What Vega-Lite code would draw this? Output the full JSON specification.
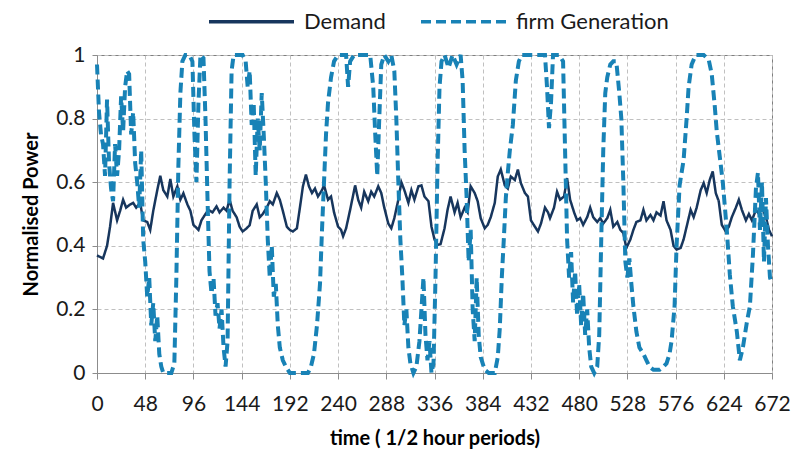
{
  "$schema": "https://vega.github.io/schema/vega-lite/v6.json",
  "width": 675,
  "height": 318,
  "autosize": {"type": "none"},
  "padding": {"left": 97, "top": 55, "right": 20, "bottom": 86},
  "background": "white",
  "config": {
    "font": "Lato",
    "view": {"stroke": "#7f7f7f", "strokeWidth": 1},
    "axis": {
      "labelFont": "Lato",
      "titleFont": "Lato",
      "labelFontSize": 21,
      "labelColor": "#1a1a1a",
      "titleFontSize": 20,
      "titleColor": "#000000",
      "titleFontWeight": "bold",
      "domainColor": "#8c8c8c",
      "tickColor": "#8c8c8c",
      "gridColor": "#c0c0c0",
      "gridDash": [4, 3],
      "gridWidth": 1
    },
    "legend": {
      "labelFont": "Lato",
      "labelFontSize": 22,
      "labelColor": "#1a1a1a"
    }
  },
  "data": {
    "values": [
      {"s":"Demand","t":0,"v":0.37},{"s":"Demand","t":3,"v":0.365},{"s":"Demand","t":6,"v":0.36},{"s":"Demand","t":10,"v":0.40},{"s":"Demand","t":13,"v":0.46},{"s":"Demand","t":16,"v":0.535},{"s":"Demand","t":20,"v":0.48},{"s":"Demand","t":23,"v":0.51},{"s":"Demand","t":26,"v":0.545},{"s":"Demand","t":29,"v":0.52},{"s":"Demand","t":33,"v":0.53},{"s":"Demand","t":36,"v":0.535},{"s":"Demand","t":39,"v":0.52},{"s":"Demand","t":43,"v":0.535},{"s":"Demand","t":46,"v":0.48},{"s":"Demand","t":50,"v":0.475},{"s":"Demand","t":53,"v":0.45},{"s":"Demand","t":56,"v":0.51},{"s":"Demand","t":60,"v":0.575},{"s":"Demand","t":63,"v":0.62},{"s":"Demand","t":66,"v":0.575},{"s":"Demand","t":70,"v":0.555},{"s":"Demand","t":73,"v":0.61},{"s":"Demand","t":76,"v":0.555},{"s":"Demand","t":80,"v":0.587},{"s":"Demand","t":83,"v":0.545},{"s":"Demand","t":86,"v":0.565},{"s":"Demand","t":90,"v":0.53},{"s":"Demand","t":93,"v":0.51},{"s":"Demand","t":96,"v":0.466},{"s":"Demand","t":101,"v":0.45},{"s":"Demand","t":104,"v":0.48},{"s":"Demand","t":108,"v":0.50},{"s":"Demand","t":111,"v":0.513},{"s":"Demand","t":115,"v":0.505},{"s":"Demand","t":119,"v":0.524},{"s":"Demand","t":122,"v":0.505},{"s":"Demand","t":126,"v":0.52},{"s":"Demand","t":129,"v":0.51},{"s":"Demand","t":132,"v":0.545},{"s":"Demand","t":135,"v":0.51},{"s":"Demand","t":139,"v":0.49},{"s":"Demand","t":142,"v":0.46},{"s":"Demand","t":145,"v":0.445},{"s":"Demand","t":149,"v":0.455},{"s":"Demand","t":152,"v":0.465},{"s":"Demand","t":155,"v":0.51},{"s":"Demand","t":159,"v":0.53},{"s":"Demand","t":162,"v":0.49},{"s":"Demand","t":165,"v":0.50},{"s":"Demand","t":169,"v":0.52},{"s":"Demand","t":172,"v":0.54},{"s":"Demand","t":175,"v":0.53},{"s":"Demand","t":179,"v":0.566},{"s":"Demand","t":182,"v":0.545},{"s":"Demand","t":185,"v":0.51},{"s":"Demand","t":189,"v":0.46},{"s":"Demand","t":192,"v":0.45},{"s":"Demand","t":195,"v":0.445},{"s":"Demand","t":199,"v":0.455},{"s":"Demand","t":202,"v":0.52},{"s":"Demand","t":205,"v":0.587},{"s":"Demand","t":208,"v":0.624},{"s":"Demand","t":211,"v":0.587},{"s":"Demand","t":214,"v":0.566},{"s":"Demand","t":217,"v":0.58},{"s":"Demand","t":220,"v":0.555},{"s":"Demand","t":224,"v":0.575},{"s":"Demand","t":226,"v":0.59},{"s":"Demand","t":230,"v":0.545},{"s":"Demand","t":233,"v":0.555},{"s":"Demand","t":236,"v":0.505},{"s":"Demand","t":240,"v":0.46},{"s":"Demand","t":243,"v":0.45},{"s":"Demand","t":245,"v":0.43},{"s":"Demand","t":248,"v":0.455},{"s":"Demand","t":252,"v":0.513},{"s":"Demand","t":257,"v":0.59},{"s":"Demand","t":260,"v":0.545},{"s":"Demand","t":263,"v":0.52},{"s":"Demand","t":266,"v":0.57},{"s":"Demand","t":270,"v":0.54},{"s":"Demand","t":273,"v":0.57},{"s":"Demand","t":276,"v":0.555},{"s":"Demand","t":280,"v":0.587},{"s":"Demand","t":283,"v":0.566},{"s":"Demand","t":286,"v":0.52},{"s":"Demand","t":290,"v":0.47},{"s":"Demand","t":293,"v":0.455},{"s":"Demand","t":296,"v":0.487},{"s":"Demand","t":300,"v":0.545},{"s":"Demand","t":303,"v":0.6},{"s":"Demand","t":306,"v":0.575},{"s":"Demand","t":310,"v":0.535},{"s":"Demand","t":313,"v":0.575},{"s":"Demand","t":316,"v":0.545},{"s":"Demand","t":320,"v":0.587},{"s":"Demand","t":323,"v":0.59},{"s":"Demand","t":326,"v":0.555},{"s":"Demand","t":330,"v":0.54},{"s":"Demand","t":333,"v":0.46},{"s":"Demand","t":336,"v":0.42},{"s":"Demand","t":339,"v":0.403},{"s":"Demand","t":342,"v":0.405},{"s":"Demand","t":346,"v":0.455},{"s":"Demand","t":349,"v":0.513},{"s":"Demand","t":352,"v":0.555},{"s":"Demand","t":356,"v":0.505},{"s":"Demand","t":359,"v":0.535},{"s":"Demand","t":362,"v":0.49},{"s":"Demand","t":366,"v":0.52},{"s":"Demand","t":369,"v":0.505},{"s":"Demand","t":372,"v":0.587},{"s":"Demand","t":376,"v":0.566},{"s":"Demand","t":379,"v":0.54},{"s":"Demand","t":382,"v":0.487},{"s":"Demand","t":386,"v":0.455},{"s":"Demand","t":389,"v":0.466},{"s":"Demand","t":392,"v":0.49},{"s":"Demand","t":396,"v":0.535},{"s":"Demand","t":399,"v":0.618},{"s":"Demand","t":402,"v":0.64},{"s":"Demand","t":406,"v":0.59},{"s":"Demand","t":409,"v":0.58},{"s":"Demand","t":412,"v":0.618},{"s":"Demand","t":416,"v":0.607},{"s":"Demand","t":419,"v":0.64},{"s":"Demand","t":422,"v":0.597},{"s":"Demand","t":426,"v":0.566},{"s":"Demand","t":429,"v":0.555},{"s":"Demand","t":432,"v":0.48},{"s":"Demand","t":436,"v":0.46},{"s":"Demand","t":439,"v":0.445},{"s":"Demand","t":442,"v":0.47},{"s":"Demand","t":446,"v":0.52},{"s":"Demand","t":449,"v":0.505},{"s":"Demand","t":451,"v":0.487},{"s":"Demand","t":455,"v":0.52},{"s":"Demand","t":458,"v":0.57},{"s":"Demand","t":461,"v":0.545},{"s":"Demand","t":465,"v":0.555},{"s":"Demand","t":468,"v":0.613},{"s":"Demand","t":471,"v":0.545},{"s":"Demand","t":475,"v":0.505},{"s":"Demand","t":478,"v":0.48},{"s":"Demand","t":481,"v":0.487},{"s":"Demand","t":484,"v":0.466},{"s":"Demand","t":488,"v":0.49},{"s":"Demand","t":491,"v":0.52},{"s":"Demand","t":494,"v":0.49},{"s":"Demand","t":498,"v":0.475},{"s":"Demand","t":501,"v":0.487},{"s":"Demand","t":504,"v":0.47},{"s":"Demand","t":508,"v":0.487},{"s":"Demand","t":511,"v":0.513},{"s":"Demand","t":514,"v":0.46},{"s":"Demand","t":518,"v":0.475},{"s":"Demand","t":521,"v":0.45},{"s":"Demand","t":524,"v":0.44},{"s":"Demand","t":527,"v":0.393},{"s":"Demand","t":531,"v":0.42},{"s":"Demand","t":534,"v":0.45},{"s":"Demand","t":537,"v":0.475},{"s":"Demand","t":541,"v":0.48},{"s":"Demand","t":544,"v":0.513},{"s":"Demand","t":547,"v":0.48},{"s":"Demand","t":551,"v":0.497},{"s":"Demand","t":554,"v":0.48},{"s":"Demand","t":557,"v":0.505},{"s":"Demand","t":561,"v":0.495},{"s":"Demand","t":564,"v":0.54},{"s":"Demand","t":567,"v":0.48},{"s":"Demand","t":571,"v":0.45},{"s":"Demand","t":574,"v":0.40},{"s":"Demand","t":577,"v":0.388},{"s":"Demand","t":581,"v":0.393},{"s":"Demand","t":584,"v":0.42},{"s":"Demand","t":587,"v":0.46},{"s":"Demand","t":591,"v":0.513},{"s":"Demand","t":594,"v":0.49},{"s":"Demand","t":597,"v":0.52},{"s":"Demand","t":601,"v":0.575},{"s":"Demand","t":604,"v":0.597},{"s":"Demand","t":607,"v":0.566},{"s":"Demand","t":610,"v":0.607},{"s":"Demand","t":613,"v":0.634},{"s":"Demand","t":616,"v":0.566},{"s":"Demand","t":619,"v":0.54},{"s":"Demand","t":622,"v":0.466},{"s":"Demand","t":626,"v":0.445},{"s":"Demand","t":629,"v":0.46},{"s":"Demand","t":632,"v":0.49},{"s":"Demand","t":636,"v":0.52},{"s":"Demand","t":639,"v":0.545},{"s":"Demand","t":642,"v":0.513},{"s":"Demand","t":646,"v":0.48},{"s":"Demand","t":649,"v":0.50},{"s":"Demand","t":652,"v":0.48},{"s":"Demand","t":656,"v":0.513},{"s":"Demand","t":659,"v":0.50},{"s":"Demand","t":662,"v":0.52},{"s":"Demand","t":666,"v":0.49},{"s":"Demand","t":669,"v":0.45},{"s":"Demand","t":672,"v":0.43},
      {"s":"firm Generation","t":0,"v":0.97},{"s":"firm Generation","t":2,"v":0.82},{"s":"firm Generation","t":4,"v":0.75},{"s":"firm Generation","t":6,"v":0.72},{"s":"firm Generation","t":8,"v":0.62},{"s":"firm Generation","t":10,"v":0.86},{"s":"firm Generation","t":12,"v":0.66},{"s":"firm Generation","t":14,"v":0.58},{"s":"firm Generation","t":16,"v":0.54},{"s":"firm Generation","t":18,"v":0.72},{"s":"firm Generation","t":20,"v":0.62},{"s":"firm Generation","t":22,"v":0.7},{"s":"firm Generation","t":24,"v":0.87},{"s":"firm Generation","t":26,"v":0.76},{"s":"firm Generation","t":28,"v":0.9},{"s":"firm Generation","t":30,"v":0.95},{"s":"firm Generation","t":32,"v":0.94},{"s":"firm Generation","t":34,"v":0.75},{"s":"firm Generation","t":36,"v":0.82},{"s":"firm Generation","t":38,"v":0.66},{"s":"firm Generation","t":40,"v":0.6},{"s":"firm Generation","t":42,"v":0.52},{"s":"firm Generation","t":44,"v":0.7},{"s":"firm Generation","t":46,"v":0.42},{"s":"firm Generation","t":48,"v":0.35},{"s":"firm Generation","t":50,"v":0.24},{"s":"firm Generation","t":52,"v":0.3},{"s":"firm Generation","t":54,"v":0.15},{"s":"firm Generation","t":56,"v":0.22},{"s":"firm Generation","t":58,"v":0.1},{"s":"firm Generation","t":60,"v":0.18},{"s":"firm Generation","t":62,"v":0.06},{"s":"firm Generation","t":64,"v":0.02},{"s":"firm Generation","t":66,"v":0.0},{"s":"firm Generation","t":70,"v":0.0},{"s":"firm Generation","t":74,"v":0.0},{"s":"firm Generation","t":77,"v":0.03},{"s":"firm Generation","t":79,"v":0.3},{"s":"firm Generation","t":81,"v":0.65},{"s":"firm Generation","t":83,"v":0.88},{"s":"firm Generation","t":85,"v":0.98},{"s":"firm Generation","t":88,"v":1.0},{"s":"firm Generation","t":92,"v":1.0},{"s":"firm Generation","t":95,"v":0.98},{"s":"firm Generation","t":97,"v":0.75},{"s":"firm Generation","t":99,"v":0.6},{"s":"firm Generation","t":101,"v":0.85},{"s":"firm Generation","t":103,"v":1.0},{"s":"firm Generation","t":106,"v":0.99},{"s":"firm Generation","t":108,"v":0.8},{"s":"firm Generation","t":110,"v":0.55},{"s":"firm Generation","t":112,"v":0.32},{"s":"firm Generation","t":114,"v":0.25},{"s":"firm Generation","t":116,"v":0.3},{"s":"firm Generation","t":118,"v":0.18},{"s":"firm Generation","t":120,"v":0.22},{"s":"firm Generation","t":122,"v":0.14},{"s":"firm Generation","t":124,"v":0.2},{"s":"firm Generation","t":126,"v":0.08},{"s":"firm Generation","t":128,"v":0.02},{"s":"firm Generation","t":130,"v":0.1},{"s":"firm Generation","t":132,"v":0.6},{"s":"firm Generation","t":134,"v":0.95},{"s":"firm Generation","t":136,"v":1.0},{"s":"firm Generation","t":140,"v":1.0},{"s":"firm Generation","t":145,"v":1.0},{"s":"firm Generation","t":148,"v":0.98},{"s":"firm Generation","t":150,"v":0.9},{"s":"firm Generation","t":152,"v":0.95},{"s":"firm Generation","t":154,"v":0.78},{"s":"firm Generation","t":156,"v":0.85},{"s":"firm Generation","t":158,"v":0.62},{"s":"firm Generation","t":160,"v":0.8},{"s":"firm Generation","t":162,"v":0.7},{"s":"firm Generation","t":164,"v":0.88},{"s":"firm Generation","t":166,"v":0.75},{"s":"firm Generation","t":168,"v":0.6},{"s":"firm Generation","t":170,"v":0.42},{"s":"firm Generation","t":172,"v":0.3},{"s":"firm Generation","t":174,"v":0.4},{"s":"firm Generation","t":176,"v":0.24},{"s":"firm Generation","t":178,"v":0.28},{"s":"firm Generation","t":180,"v":0.15},{"s":"firm Generation","t":182,"v":0.08},{"s":"firm Generation","t":185,"v":0.04},{"s":"firm Generation","t":188,"v":0.02},{"s":"firm Generation","t":192,"v":0.0},{"s":"firm Generation","t":200,"v":0.0},{"s":"firm Generation","t":206,"v":0.0},{"s":"firm Generation","t":210,"v":0.0},{"s":"firm Generation","t":213,"v":0.02},{"s":"firm Generation","t":216,"v":0.06},{"s":"firm Generation","t":219,"v":0.15},{"s":"firm Generation","t":222,"v":0.28},{"s":"firm Generation","t":224,"v":0.45},{"s":"firm Generation","t":226,"v":0.6},{"s":"firm Generation","t":228,"v":0.75},{"s":"firm Generation","t":230,"v":0.85},{"s":"firm Generation","t":233,"v":0.93},{"s":"firm Generation","t":236,"v":0.98},{"s":"firm Generation","t":240,"v":1.0},{"s":"firm Generation","t":248,"v":1.0},{"s":"firm Generation","t":250,"v":0.9},{"s":"firm Generation","t":252,"v":0.98},{"s":"firm Generation","t":256,"v":1.0},{"s":"firm Generation","t":265,"v":1.0},{"s":"firm Generation","t":272,"v":1.0},{"s":"firm Generation","t":275,"v":0.9},{"s":"firm Generation","t":277,"v":0.75},{"s":"firm Generation","t":279,"v":0.62},{"s":"firm Generation","t":281,"v":0.8},{"s":"firm Generation","t":283,"v":0.97},{"s":"firm Generation","t":286,"v":1.0},{"s":"firm Generation","t":290,"v":0.98},{"s":"firm Generation","t":293,"v":1.0},{"s":"firm Generation","t":296,"v":0.95},{"s":"firm Generation","t":298,"v":0.8},{"s":"firm Generation","t":300,"v":0.6},{"s":"firm Generation","t":302,"v":0.42},{"s":"firm Generation","t":304,"v":0.3},{"s":"firm Generation","t":306,"v":0.15},{"s":"firm Generation","t":308,"v":0.2},{"s":"firm Generation","t":310,"v":0.08},{"s":"firm Generation","t":312,"v":0.03},{"s":"firm Generation","t":315,"v":0.0},{"s":"firm Generation","t":318,"v":0.02},{"s":"firm Generation","t":321,"v":0.1},{"s":"firm Generation","t":323,"v":0.2},{"s":"firm Generation","t":325,"v":0.3},{"s":"firm Generation","t":327,"v":0.12},{"s":"firm Generation","t":329,"v":0.04},{"s":"firm Generation","t":331,"v":0.1},{"s":"firm Generation","t":333,"v":0.0},{"s":"firm Generation","t":335,"v":0.03},{"s":"firm Generation","t":337,"v":0.3},{"s":"firm Generation","t":339,"v":0.65},{"s":"firm Generation","t":341,"v":0.9},{"s":"firm Generation","t":343,"v":0.98},{"s":"firm Generation","t":346,"v":1.0},{"s":"firm Generation","t":350,"v":0.96},{"s":"firm Generation","t":354,"v":1.0},{"s":"firm Generation","t":358,"v":0.97},{"s":"firm Generation","t":362,"v":1.0},{"s":"firm Generation","t":364,"v":0.92},{"s":"firm Generation","t":366,"v":0.7},{"s":"firm Generation","t":368,"v":0.55},{"s":"firm Generation","t":370,"v":0.35},{"s":"firm Generation","t":372,"v":0.45},{"s":"firm Generation","t":374,"v":0.2},{"s":"firm Generation","t":376,"v":0.1},{"s":"firm Generation","t":378,"v":0.3},{"s":"firm Generation","t":380,"v":0.12},{"s":"firm Generation","t":382,"v":0.05},{"s":"firm Generation","t":386,"v":0.01},{"s":"firm Generation","t":390,"v":0.0},{"s":"firm Generation","t":396,"v":0.0},{"s":"firm Generation","t":399,"v":0.05},{"s":"firm Generation","t":401,"v":0.14},{"s":"firm Generation","t":403,"v":0.3},{"s":"firm Generation","t":405,"v":0.42},{"s":"firm Generation","t":407,"v":0.55},{"s":"firm Generation","t":409,"v":0.63},{"s":"firm Generation","t":411,"v":0.7},{"s":"firm Generation","t":414,"v":0.78},{"s":"firm Generation","t":417,"v":0.92},{"s":"firm Generation","t":420,"v":0.98},{"s":"firm Generation","t":423,"v":1.0},{"s":"firm Generation","t":430,"v":1.0},{"s":"firm Generation","t":440,"v":1.0},{"s":"firm Generation","t":446,"v":1.0},{"s":"firm Generation","t":448,"v":0.9},{"s":"firm Generation","t":450,"v":0.77},{"s":"firm Generation","t":452,"v":0.85},{"s":"firm Generation","t":454,"v":1.0},{"s":"firm Generation","t":460,"v":1.0},{"s":"firm Generation","t":464,"v":0.98},{"s":"firm Generation","t":466,"v":0.7},{"s":"firm Generation","t":468,"v":0.42},{"s":"firm Generation","t":470,"v":0.3},{"s":"firm Generation","t":472,"v":0.38},{"s":"firm Generation","t":474,"v":0.22},{"s":"firm Generation","t":476,"v":0.32},{"s":"firm Generation","t":478,"v":0.18},{"s":"firm Generation","t":480,"v":0.28},{"s":"firm Generation","t":482,"v":0.15},{"s":"firm Generation","t":484,"v":0.25},{"s":"firm Generation","t":486,"v":0.12},{"s":"firm Generation","t":488,"v":0.2},{"s":"firm Generation","t":490,"v":0.08},{"s":"firm Generation","t":492,"v":0.02},{"s":"firm Generation","t":495,"v":0.0},{"s":"firm Generation","t":498,"v":0.02},{"s":"firm Generation","t":500,"v":0.12},{"s":"firm Generation","t":502,"v":0.42},{"s":"firm Generation","t":504,"v":0.7},{"s":"firm Generation","t":506,"v":0.88},{"s":"firm Generation","t":508,"v":0.93},{"s":"firm Generation","t":511,"v":0.97},{"s":"firm Generation","t":514,"v":0.98},{"s":"firm Generation","t":517,"v":0.98},{"s":"firm Generation","t":520,"v":0.88},{"s":"firm Generation","t":522,"v":0.8},{"s":"firm Generation","t":524,"v":0.6},{"s":"firm Generation","t":526,"v":0.35},{"s":"firm Generation","t":528,"v":0.3},{"s":"firm Generation","t":530,"v":0.36},{"s":"firm Generation","t":532,"v":0.28},{"s":"firm Generation","t":534,"v":0.21},{"s":"firm Generation","t":537,"v":0.13},{"s":"firm Generation","t":540,"v":0.08},{"s":"firm Generation","t":544,"v":0.06},{"s":"firm Generation","t":547,"v":0.04},{"s":"firm Generation","t":550,"v":0.02},{"s":"firm Generation","t":554,"v":0.01},{"s":"firm Generation","t":560,"v":0.01},{"s":"firm Generation","t":564,"v":0.02},{"s":"firm Generation","t":567,"v":0.03},{"s":"firm Generation","t":570,"v":0.06},{"s":"firm Generation","t":572,"v":0.1},{"s":"firm Generation","t":575,"v":0.21},{"s":"firm Generation","t":577,"v":0.4},{"s":"firm Generation","t":580,"v":0.59},{"s":"firm Generation","t":584,"v":0.67},{"s":"firm Generation","t":587,"v":0.8},{"s":"firm Generation","t":589,"v":0.9},{"s":"firm Generation","t":592,"v":0.97},{"s":"firm Generation","t":596,"v":1.0},{"s":"firm Generation","t":604,"v":1.0},{"s":"firm Generation","t":609,"v":0.985},{"s":"firm Generation","t":612,"v":0.94},{"s":"firm Generation","t":615,"v":0.84},{"s":"firm Generation","t":617,"v":0.76},{"s":"firm Generation","t":620,"v":0.68},{"s":"firm Generation","t":623,"v":0.6},{"s":"firm Generation","t":627,"v":0.45},{"s":"firm Generation","t":630,"v":0.31},{"s":"firm Generation","t":633,"v":0.21},{"s":"firm Generation","t":637,"v":0.13},{"s":"firm Generation","t":640,"v":0.04},{"s":"firm Generation","t":643,"v":0.08},{"s":"firm Generation","t":647,"v":0.16},{"s":"firm Generation","t":650,"v":0.21},{"s":"firm Generation","t":653,"v":0.37},{"s":"firm Generation","t":656,"v":0.58},{"s":"firm Generation","t":658,"v":0.63},{"s":"firm Generation","t":660,"v":0.45},{"s":"firm Generation","t":662,"v":0.6},{"s":"firm Generation","t":664,"v":0.35},{"s":"firm Generation","t":666,"v":0.55},{"s":"firm Generation","t":668,"v":0.4},{"s":"firm Generation","t":670,"v":0.3},{"s":"firm Generation","t":672,"v":0.28}
    ]
  },
  "encoding": {
    "x": {
      "field": "t", "type": "quantitative",
      "scale": {"domain": [0, 672], "nice": false, "zero": false},
      "axis": {
        "values": [0, 48, 96, 144, 192, 240, 288, 336, 384, 432, 480, 528, 576, 624, 672],
        "title": "time ( 1/2 hour periods)",
        "grid": true, "tickSize": 6, "labelPadding": 14, "titlePadding": 14,
        "labelFlush": false, "labelOverlap": false
      }
    },
    "y": {
      "field": "v", "type": "quantitative",
      "scale": {"domain": [0, 1], "nice": false},
      "axis": {
        "values": [0, 0.2, 0.4, 0.6, 0.8, 1],
        "format": "~g",
        "title": "Normalised Power",
        "grid": true, "tickSize": 5, "labelPadding": 7, "titlePadding": 14
      }
    },
    "color": {
      "field": "s", "type": "nominal",
      "scale": {"domain": ["Demand", "firm Generation"], "range": ["#17365D", "#1882B6"]},
      "legend": {
        "title": null, "orient": "none", "direction": "horizontal",
        "legendX": 110, "legendY": -78,
        "symbolType": "stroke", "symbolSize": 7225, "symbolStrokeWidth": 3.5,
        "columnPadding": 28, "labelOffset": 8
      }
    },
    "strokeDash": {
      "field": "s", "type": "nominal",
      "scale": {"domain": ["Demand", "firm Generation"], "range": [[1, 0], [10, 5]]},
      "legend": {
        "title": null, "orient": "none", "direction": "horizontal",
        "legendX": 110, "legendY": -78,
        "symbolType": "stroke", "symbolSize": 7225, "symbolStrokeWidth": 3.5,
        "columnPadding": 28, "labelOffset": 8
      }
    }
  },
  "layer": [
    {
      "transform": [{"filter": "datum.s == 'Demand'"}],
      "mark": {"type": "line", "strokeWidth": 2.5}
    },
    {
      "transform": [{"filter": "datum.s == 'firm Generation'"}],
      "mark": {"type": "line", "strokeWidth": 4, "strokeCap": "butt"}
    }
  ]
}
